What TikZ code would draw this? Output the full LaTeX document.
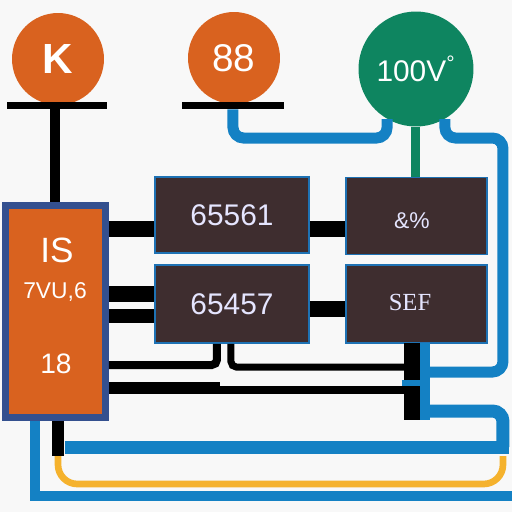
\documentclass[tikz,border=0pt]{standalone}
\usepackage{fontspec}
\setmainfont{Liberation Sans}
\newfontfamily\serifface{Liberation Serif}
\usepackage{xcolor}
\usetikzlibrary{calc, positioning}

\definecolor{panelorange}{HTML}{D9621F}
\definecolor{panelgreen}{HTML}{0E8560}
\definecolor{panelbrown}{HTML}{3E2D2F}
\definecolor{panelnavy}{HTML}{34508F}
\definecolor{wireblue}{HTML}{1481C4}
\definecolor{wireyellow}{HTML}{F5B22D}
\definecolor{paper}{HTML}{F8F8F8}

\tikzset{
    dial/.style={circle, fill=panelorange, minimum size=1.84cm, inner sep=0pt, text=white, font=\fontsize{22}{22}\selectfont},
    busbar/.style={rectangle, fill=black, inner sep=0pt, minimum height=0.14cm},
    unit/.style={rectangle, draw=wireblue!70!panelnavy, line width=0.9pt, fill=panelbrown, inner sep=0pt, text=white!90!blue, font=\fontsize{17}{17}\selectfont},
    blackwire/.style={draw=black, line width=#1*0.02cm, rounded corners=3pt},
    bluewire/.style={draw=wireblue, line width=#1*0.02cm, rounded corners=6pt},
    yellowwire/.style={draw=wireyellow, line width=3.8pt, rounded corners=11pt},
}

\begin{document}
\begin{tikzpicture}[x=0.02cm, y=-0.02cm]

    % Page
    \useasboundingbox (0,0) rectangle (512,512);
    \path[fill=paper] (0,0) rectangle (512,512);

    % Top dials and their bars
    \node[dial, font=\bfseries\fontsize{24}{24}\selectfont] (dialk) at (58,59) {K};
    \node[dial] (dialn) at (234,58) {88};
    \node[dial, fill=panelgreen, minimum size=2.3cm, font=\fontsize{17}{17}\selectfont] (dialv) at (416,69) {100V\textsuperscript{°}};
    \node[busbar, minimum width=2cm] (bark) at (57,105.5) {};
    \node[busbar, minimum width=2.04cm] (barn) at (233,105.5) {};

    % Left panel
    \node[rectangle, draw=panelnavy, line width=7*0.02cm, fill=panelorange, minimum width=2cm, minimum height=4.24cm, inner sep=0pt] (panel) at (55.5,311.5) {};
    \node[text=white, font=\fontsize{20}{20}\selectfont] (panelis) at (57,250) {IS};
    \node[text=white, font=\fontsize{13}{13}\selectfont] (panelvu) at (55,292) {7VU,6};
    \node[text=white, font=\fontsize{16}{16}\selectfont] (panelnum) at (56,364) {18};

    % Dark units
    \node[unit, minimum width=3.08cm, minimum height=1.52cm] (unita) at (232,215) {65561};
    \node[unit, minimum width=3.08cm, minimum height=1.56cm] (unitb) at (232,304) {65457};
    \node[unit, minimum width=2.82cm, minimum height=1.54cm] (unitc) at (416.5,216) {};
    \node[unit, minimum width=2.82cm, minimum height=1.56cm] (unitd) at (416.5,304) {};
    \node[text=white!90!blue, font=\fontsize{13}{13}\selectfont] (unitcsign) at (412,221) {\&\%};
    \node[text=white!90!blue, font=\serifface\fontsize{14}{14}\selectfont] (unitdname) at (410,302) {SEF};

    % Rows and bends
    \coordinate (rowa) at (0,229);
    \coordinate (rowb) at (0,294);
    \coordinate (rowc) at (0,316);
    \coordinate (rowd) at (0,309);
    \coordinate (rowe) at (0,365);
    \coordinate (rowf) at (0,367);
    \coordinate (rowg) at (0,388);
    \coordinate (rowh) at (0,390);
    \coordinate (colk) at (55,0);
    \coordinate (colm) at (217,0);
    \coordinate (coln) at (231,0);
    \coordinate (colp) at (220,0);

    % Black links between the boxes
    \draw[blackwire=10] (bark.south -| colk) -- (panel.north -| colk);
    \draw[blackwire=16] (panel.east |- rowa) -- (unita.west |- rowa);
    \draw[blackwire=16] (panel.east |- rowb) -- (unitb.west |- rowb);
    \draw[blackwire=14] (panel.east |- rowc) -- (unitb.west |- rowc);
    \draw[blackwire=16] (unita.east |- rowa) -- (unitc.west |- rowa);
    \draw[blackwire=16] (unitb.east |- rowd) -- (unitd.west |- rowd);

    % Black riser under the last unit
    \coordinate (riser) at (412,343);
    \coordinate (riserend) at (412,420);
    \draw[blackwire=16, rounded corners=0pt] (riser) -- (riserend);

    % Lower black wires
    \draw[blackwire=8] (panel.east |- rowe) -- (colm |- rowe) -- (colm |- unitb.south);
    \draw[blackwire=7] (coln |- unitb.south) -- (coln |- rowf) -- (riser |- rowf);
    \draw[blackwire=12] (panel.east |- rowg) -- (colp |- rowg);
    \draw[blackwire=8] (colp |- rowh) -- (riser |- rowh);

    % Green stem
    \draw[draw=panelgreen, line width=9*0.02cm] (dialv.south) -- (dialv.south |- unitc.north);

    % Blue wires at the top
    \coordinate (rowtop) at (0,138);
    \coordinate (colright) at (503,0);
    \coordinate (bluebar) at (425,343);
    \coordinate (bluebarend) at (425,420);
    \coordinate (rowi) at (0,372);
    \coordinate (rowj) at (0,411);
    \coordinate (rowk) at (0,447);
    \coordinate (rowl) at (0,496);
    \draw[bluewire=11] (barn.south) -- (barn.south |- rowtop) -- (dialv.240 |- rowtop) -- (dialv.240);
    \draw[bluewire=11] (dialv.-60) -- (dialv.-60 |- rowtop) -- (colright |- rowtop) -- (colright |- rowi) -- (bluebar |- rowi);

    % Blue riser with its tab
    \draw[bluewire=10, rounded corners=0pt] (bluebar) -- (bluebarend);
    \coordinate (tabstart) at (402,383);
    \draw[bluewire=6, rounded corners=0pt] (tabstart) -- (bluebar |- tabstart);
    \draw[bluewire=13] (bluebar |- rowj) -- (colright |- rowj) -- (colright |- rowk);

    % Long blue runs at the bottom
    \coordinate (colq) at (65,0);
    \coordinate (colr) at (509,0);
    \coordinate (coledge) at (512,0);
    \coordinate (cols) at (35,0);
    \coordinate (colt) at (58,0);
    \coordinate (rowu) at (0,456);
    \coordinate (rowv) at (0,484);
    \draw[bluewire=13, rounded corners=0pt] (colq |- rowk) -- (colr |- rowk);
    \draw[bluewire=10, rounded corners=0pt] (panel.south -| cols) -- (cols |- rowl) -- (coledge |- rowl);

    % Yellow loop
    \draw[yellowwire] (colt |- rowu) -- (colt |- rowv) -- (colright |- rowv) -- (colright |- rowu);

    % Black stub under the panel
    \draw[blackwire=12, rounded corners=0pt] (panel.south -| colt) -- (colt |- rowu);

\end{tikzpicture}
\end{document}
